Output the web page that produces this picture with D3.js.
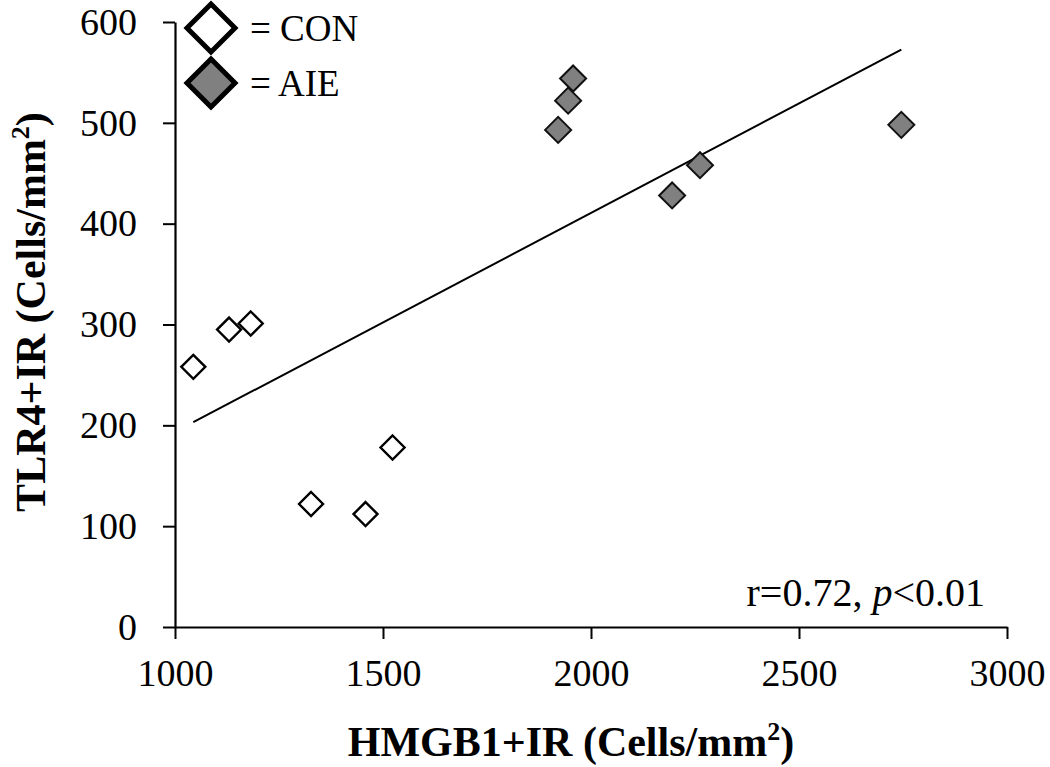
<!DOCTYPE html>
<html><head><meta charset="utf-8">
<script src="https://cdn.jsdelivr.net/npm/d3@7"></script>
<style>body{margin:0;background:#fff}svg{display:block}</style>
</head><body>
<svg id="c" width="1050" height="767"></svg>
<script>
// Data
const conX = [1044, 1130, 1182, 1327, 1458, 1523];
const conY = [258, 295, 301, 122, 112, 178];
const aieX = [1921, 1945, 1957, 2195, 2262, 2746];
const aieY = [493, 522, 544, 428, 458, 498];
const xTicks = [1000, 1500, 2000, 2500, 3000];
const yTicks = [0, 100, 200, 300, 400, 500, 600];
const legendLabels = ["= CON", "= AIE"];
const xTitle = "HMGB1+IR (Cells/mm";
const yTitle = "TLR4+IR (Cells/mm";
const statText = ["r=0.72, ", "p", "<0.01"];

const svg = d3.select("#c");
const x = d3.scaleLinear().domain([1000, 3000]).range([175, 1007]);
const y = d3.scaleLinear().domain([0, 600]).range([627, 22]);

// Axes
const yAxis = d3.axisLeft(y).tickValues(yTicks).tickFormat(d3.format("d")).tickSize(12).tickSizeOuter(0).tickPadding(26);
const gy = svg.append("g").attr("transform", `translate(${x(1000)},0)`).call(yAxis);
gy.select(".domain").attr("stroke", "#000").attr("stroke-width", 2.2);
gy.selectAll(".tick line").attr("stroke", "#000").attr("stroke-width", 2);
gy.selectAll(".tick text").attr("font-family", "Liberation Serif").attr("font-size", 38).attr("fill", "#000");

const xAxis = d3.axisBottom(x).tickValues(xTicks).tickFormat(d3.format("d")).tickSize(12).tickSizeOuter(0).tickPadding(20);
const gx = svg.append("g").attr("transform", `translate(0,${y(0)})`).call(xAxis);
gx.select(".domain").attr("stroke", "#000").attr("stroke-width", 2.2);
gx.selectAll(".tick line").attr("stroke", "#000").attr("stroke-width", 2);
gx.selectAll(".tick text").attr("font-family", "Liberation Serif").attr("font-size", 38).attr("fill", "#000");

// Regression line (least squares on all points)
const allX = conX.concat(aieX), allY = conY.concat(aieY);
const mx = d3.mean(allX), my = d3.mean(allY);
const slope = d3.sum(allX.map((v, i) => (v - mx) * (allY[i] - my))) / d3.sum(allX.map(v => (v - mx) ** 2));
const icpt = my - slope * mx;
const x0 = d3.min(allX), x1 = d3.max(allX);
svg.append("line")
  .attr("x1", x(x0)).attr("y1", y(icpt + slope * x0))
  .attr("x2", x(x1)).attr("y2", y(icpt + slope * x1))
  .attr("stroke", "#000").attr("stroke-width", 2);

// Points
function diamondPath(r) { return `M0,${-r}L${r},0L0,${r}L${-r},0Z`; }
svg.append("g").selectAll("path").data(conX.map((v, i) => [v, conY[i]])).join("path")
  .attr("d", diamondPath(12))
  .attr("transform", d => `translate(${x(d[0])},${y(d[1])})`)
  .attr("fill", "#fff").attr("stroke", "#000").attr("stroke-width", 2.4);
svg.append("g").selectAll("path").data(aieX.map((v, i) => [v, aieY[i]])).join("path")
  .attr("d", diamondPath(13))
  .attr("transform", d => `translate(${x(d[0])},${y(d[1])})`)
  .attr("fill", "#808080").attr("stroke", "#111").attr("stroke-width", 2);

// Legend
const leg = svg.append("g");
const legFill = ["#fff", "#808080"];
legendLabels.forEach((t, i) => {
  const cy = 28 + i * 55;
  leg.append("path").attr("d", diamondPath(24))
    .attr("transform", `translate(211,${cy})`)
    .attr("fill", legFill[i]).attr("stroke", "#000").attr("stroke-width", 5);
  leg.append("text").attr("x", 250).attr("y", cy + 13)
    .attr("font-family", "Liberation Serif").attr("font-size", 37).attr("fill", "#000").text(t);
});

// Stat text
const st = svg.append("text").attr("x", 985).attr("y", 606).attr("text-anchor", "end")
  .attr("font-family", "Liberation Serif").attr("font-size", 40).attr("fill", "#000");
st.append("tspan").text(statText[0]);
st.append("tspan").attr("font-style", "italic").text(statText[1]);
st.append("tspan").text(statText[2]);

// Axis titles
const xt = svg.append("text").attr("x", 571).attr("y", 756).attr("text-anchor", "middle")
  .attr("font-family", "Liberation Serif").attr("font-weight", "bold").attr("font-size", 42).attr("fill", "#000");
xt.append("tspan").text(xTitle);
xt.append("tspan").attr("font-size", 26).attr("dy", -16).text("2");
xt.append("tspan").attr("dy", 16).text(")");

const yt = svg.append("text").attr("transform", "translate(45,312) rotate(-90)").attr("text-anchor", "middle")
  .attr("font-family", "Liberation Serif").attr("font-weight", "bold").attr("font-size", 42).attr("fill", "#000");
yt.append("tspan").text(yTitle);
yt.append("tspan").attr("font-size", 26).attr("dy", -16).text("2");
yt.append("tspan").attr("dy", 16).text(")");
</script>
</body></html>
